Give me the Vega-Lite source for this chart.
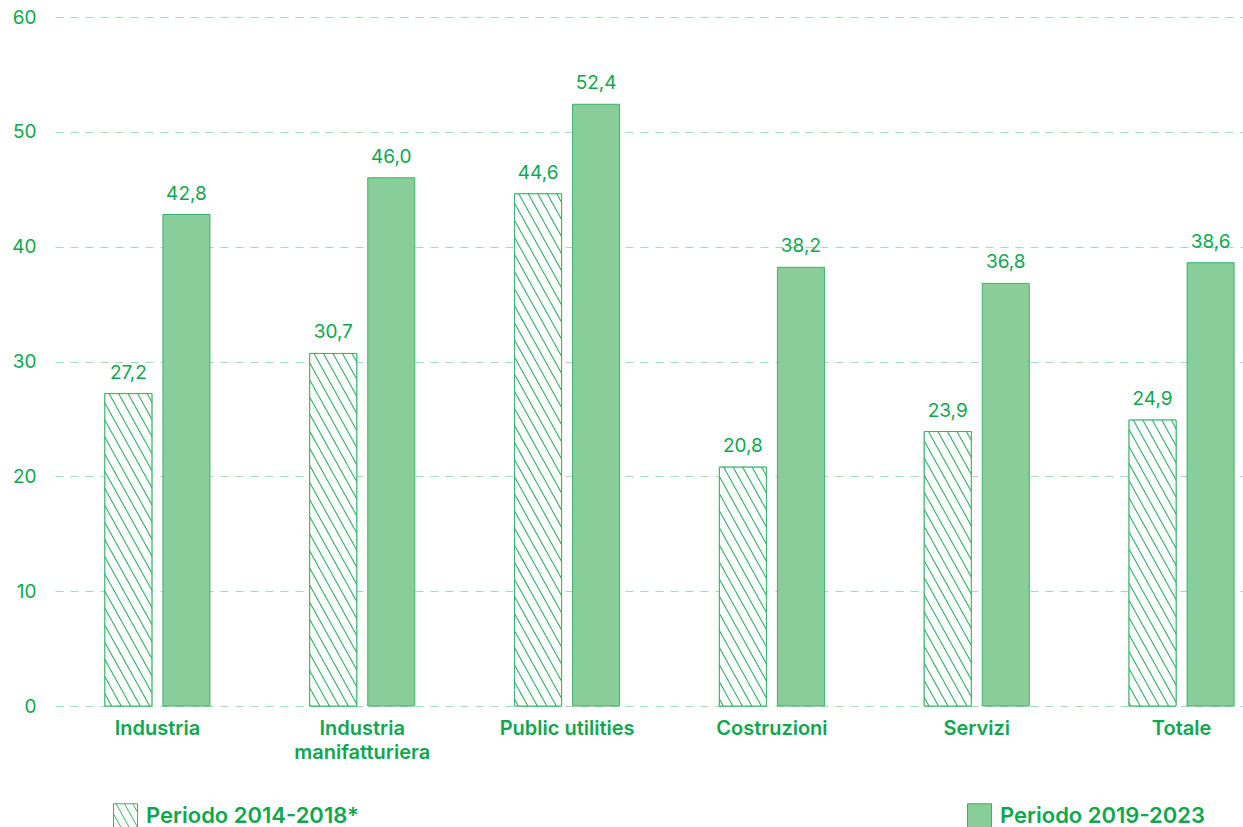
{
  "$schema": "https://vega.github.io/schema/vega-lite/v6.json",
  "width": 1190,
  "height": 689,
  "autosize": {"type": "none"},
  "padding": {"left": 53, "top": 17, "right": 0, "bottom": 121},
  "background": "#ffffff",
  "params": [
    {"name": "hs", "value": [
      {"offset": 0.0095, "color": "#ffffff"}, {"offset": 0.0125, "color": "#1fa857"}, {"offset": 0.0155, "color": "#ffffff"},
      {"offset": 0.0345, "color": "#ffffff"}, {"offset": 0.0375, "color": "#1fa857"}, {"offset": 0.0405, "color": "#ffffff"},
      {"offset": 0.0595, "color": "#ffffff"}, {"offset": 0.0625, "color": "#1fa857"}, {"offset": 0.0655, "color": "#ffffff"},
      {"offset": 0.0845, "color": "#ffffff"}, {"offset": 0.0875, "color": "#1fa857"}, {"offset": 0.0905, "color": "#ffffff"},
      {"offset": 0.1095, "color": "#ffffff"}, {"offset": 0.1125, "color": "#1fa857"}, {"offset": 0.1155, "color": "#ffffff"},
      {"offset": 0.1345, "color": "#ffffff"}, {"offset": 0.1375, "color": "#1fa857"}, {"offset": 0.1405, "color": "#ffffff"},
      {"offset": 0.1595, "color": "#ffffff"}, {"offset": 0.1625, "color": "#1fa857"}, {"offset": 0.1655, "color": "#ffffff"},
      {"offset": 0.1845, "color": "#ffffff"}, {"offset": 0.1875, "color": "#1fa857"}, {"offset": 0.1905, "color": "#ffffff"},
      {"offset": 0.2095, "color": "#ffffff"}, {"offset": 0.2125, "color": "#1fa857"}, {"offset": 0.2155, "color": "#ffffff"},
      {"offset": 0.2345, "color": "#ffffff"}, {"offset": 0.2375, "color": "#1fa857"}, {"offset": 0.2405, "color": "#ffffff"},
      {"offset": 0.2595, "color": "#ffffff"}, {"offset": 0.2625, "color": "#1fa857"}, {"offset": 0.2655, "color": "#ffffff"},
      {"offset": 0.2845, "color": "#ffffff"}, {"offset": 0.2875, "color": "#1fa857"}, {"offset": 0.2905, "color": "#ffffff"},
      {"offset": 0.3095, "color": "#ffffff"}, {"offset": 0.3125, "color": "#1fa857"}, {"offset": 0.3155, "color": "#ffffff"},
      {"offset": 0.3345, "color": "#ffffff"}, {"offset": 0.3375, "color": "#1fa857"}, {"offset": 0.3405, "color": "#ffffff"},
      {"offset": 0.3595, "color": "#ffffff"}, {"offset": 0.3625, "color": "#1fa857"}, {"offset": 0.3655, "color": "#ffffff"},
      {"offset": 0.3845, "color": "#ffffff"}, {"offset": 0.3875, "color": "#1fa857"}, {"offset": 0.3905, "color": "#ffffff"},
      {"offset": 0.4095, "color": "#ffffff"}, {"offset": 0.4125, "color": "#1fa857"}, {"offset": 0.4155, "color": "#ffffff"},
      {"offset": 0.4345, "color": "#ffffff"}, {"offset": 0.4375, "color": "#1fa857"}, {"offset": 0.4405, "color": "#ffffff"},
      {"offset": 0.4595, "color": "#ffffff"}, {"offset": 0.4625, "color": "#1fa857"}, {"offset": 0.4655, "color": "#ffffff"},
      {"offset": 0.4845, "color": "#ffffff"}, {"offset": 0.4875, "color": "#1fa857"}, {"offset": 0.4905, "color": "#ffffff"},
      {"offset": 0.5095, "color": "#ffffff"}, {"offset": 0.5125, "color": "#1fa857"}, {"offset": 0.5155, "color": "#ffffff"},
      {"offset": 0.5345, "color": "#ffffff"}, {"offset": 0.5375, "color": "#1fa857"}, {"offset": 0.5405, "color": "#ffffff"},
      {"offset": 0.5595, "color": "#ffffff"}, {"offset": 0.5625, "color": "#1fa857"}, {"offset": 0.5655, "color": "#ffffff"},
      {"offset": 0.5845, "color": "#ffffff"}, {"offset": 0.5875, "color": "#1fa857"}, {"offset": 0.5905, "color": "#ffffff"},
      {"offset": 0.6095, "color": "#ffffff"}, {"offset": 0.6125, "color": "#1fa857"}, {"offset": 0.6155, "color": "#ffffff"},
      {"offset": 0.6345, "color": "#ffffff"}, {"offset": 0.6375, "color": "#1fa857"}, {"offset": 0.6405, "color": "#ffffff"},
      {"offset": 0.6595, "color": "#ffffff"}, {"offset": 0.6625, "color": "#1fa857"}, {"offset": 0.6655, "color": "#ffffff"},
      {"offset": 0.6845, "color": "#ffffff"}, {"offset": 0.6875, "color": "#1fa857"}, {"offset": 0.6905, "color": "#ffffff"},
      {"offset": 0.7095, "color": "#ffffff"}, {"offset": 0.7125, "color": "#1fa857"}, {"offset": 0.7155, "color": "#ffffff"},
      {"offset": 0.7345, "color": "#ffffff"}, {"offset": 0.7375, "color": "#1fa857"}, {"offset": 0.7405, "color": "#ffffff"},
      {"offset": 0.7595, "color": "#ffffff"}, {"offset": 0.7625, "color": "#1fa857"}, {"offset": 0.7655, "color": "#ffffff"},
      {"offset": 0.7845, "color": "#ffffff"}, {"offset": 0.7875, "color": "#1fa857"}, {"offset": 0.7905, "color": "#ffffff"},
      {"offset": 0.8095, "color": "#ffffff"}, {"offset": 0.8125, "color": "#1fa857"}, {"offset": 0.8155, "color": "#ffffff"},
      {"offset": 0.8345, "color": "#ffffff"}, {"offset": 0.8375, "color": "#1fa857"}, {"offset": 0.8405, "color": "#ffffff"},
      {"offset": 0.8595, "color": "#ffffff"}, {"offset": 0.8625, "color": "#1fa857"}, {"offset": 0.8655, "color": "#ffffff"},
      {"offset": 0.8845, "color": "#ffffff"}, {"offset": 0.8875, "color": "#1fa857"}, {"offset": 0.8905, "color": "#ffffff"},
      {"offset": 0.9095, "color": "#ffffff"}, {"offset": 0.9125, "color": "#1fa857"}, {"offset": 0.9155, "color": "#ffffff"},
      {"offset": 0.9345, "color": "#ffffff"}, {"offset": 0.9375, "color": "#1fa857"}, {"offset": 0.9405, "color": "#ffffff"},
      {"offset": 0.9595, "color": "#ffffff"}, {"offset": 0.9625, "color": "#1fa857"}, {"offset": 0.9655, "color": "#ffffff"},
      {"offset": 0.9845, "color": "#ffffff"}, {"offset": 0.9875, "color": "#1fa857"}, {"offset": 0.9905, "color": "#ffffff"}
    ]}
  ],
  "data": {"values": [
    {"sector": "Industria", "period": "Periodo 2014-2018*", "value": 27.2},
    {"sector": "Industria", "period": "Periodo 2019-2023", "value": 42.8},
    {"sector": "Industria manifatturiera", "period": "Periodo 2014-2018*", "value": 30.7},
    {"sector": "Industria manifatturiera", "period": "Periodo 2019-2023", "value": 46.0},
    {"sector": "Public utilities", "period": "Periodo 2014-2018*", "value": 44.6},
    {"sector": "Public utilities", "period": "Periodo 2019-2023", "value": 52.4},
    {"sector": "Costruzioni", "period": "Periodo 2014-2018*", "value": 20.8},
    {"sector": "Costruzioni", "period": "Periodo 2019-2023", "value": 38.2},
    {"sector": "Servizi", "period": "Periodo 2014-2018*", "value": 23.9},
    {"sector": "Servizi", "period": "Periodo 2019-2023", "value": 36.8},
    {"sector": "Totale", "period": "Periodo 2014-2018*", "value": 24.9},
    {"sector": "Totale", "period": "Periodo 2019-2023", "value": 38.6}
  ]},
  "encoding": {
    "x": {
      "field": "sector", "type": "nominal", "sort": null,
      "scale": {"range": [2, 1231], "paddingInner": 0, "paddingOuter": 0},
      "axis": {
        "title": null, "domain": false, "ticks": false, "grid": false, "labelAngle": 0,
        "labelPadding": 12, "labelFont": "Inter", "labelFontSize": 20, "labelFontWeight": 600,
        "labelColor": "#0fa64f", "labelLineHeight": 24, "labelLimit": 300,
        "labelExpr": "datum.label == 'Industria manifatturiera' ? ['Industria', 'manifatturiera'] : datum.label"
      }
    },
    "xOffset": {
      "field": "period", "type": "nominal", "sort": null,
      "scale": {"paddingInner": 0.19, "paddingOuter": 0.86}
    },
    "y": {
      "field": "value", "type": "quantitative",
      "scale": {"domain": [0, 60], "nice": false},
      "axis": {
        "title": null, "domain": false, "ticks": false, "values": [0, 10, 20, 30, 40, 50, 60],
        "labelPadding": 17, "labelFont": "Inter", "labelFontSize": 19, "labelColor": "#0fa64f",
        "gridColor": "#a3dcb4", "gridDash": [8, 7], "gridWidth": 1
      }
    }
  },
  "layer": [
    {
      "mark": {"type": "bar", "stroke": "#38b46a", "strokeWidth": 1},
      "encoding": {
        "fill": {
          "field": "period", "type": "nominal",
          "scale": {"domain": ["Periodo 2014-2018*", "Periodo 2019-2023"], "range": ["#ffffff", "#88cd9a"]},
          "legend": {
            "orient": "none", "legendX": 60, "legendY": 786, "direction": "horizontal",
            "columns": 2, "columnPadding": 606, "title": null, "padding": 0,
            "symbolType": "square", "symbolSize": 576, "symbolStrokeColor": "#38b46a",
            "symbolStrokeWidth": 1, "symbolOpacity": 1,
            "labelFont": "Inter", "labelFontSize": 22, "labelFontWeight": 600,
            "labelColor": "#0fa64f", "labelOffset": 8, "labelLimit": 400,
            "encode": {
              "symbols": {
                "update": {
                  "shape": {"signal": "datum.index == 0 ? 'M-1,-1H1V1H-1Z M-1,-0.154L-0.359,1 M-0.78,-1L0.331,1 M-0.08,-1L1,0.944 M0.61,-1L1,-0.298' : 'square'"},
                  "fillOpacity": {"value": 1},
                  "stroke": {"value": "#38b46a"},
                  "strokeWidth": {"value": 1},
                  "opacity": {"value": 1}
                }
              }
            }
          }
        }
      }
    },
    {
      "transform": [{"filter": "datum.period == 'Periodo 2014-2018*'"}],
      "mark": {
        "type": "bar", "stroke": "#38b46a", "strokeWidth": 1,
        "fill": {"expr": "{gradient: 'linear', x1: 1, y1: 0, x2: 1 - (1 + 7.367/datum.value) * 40 / ((1 + pow(7.367/datum.value, 2)) * (4.947 + 0.6715*datum.value)) * (7.367/datum.value), y2: (1 + 7.367/datum.value) * 40 / ((1 + pow(7.367/datum.value, 2)) * (4.947 + 0.6715*datum.value)), stops: hs}"}
      }
    },
    {
      "mark": {"type": "text", "dy": -15, "baseline": "alphabetic", "align": "center", "font": "Inter", "fontSize": 19, "color": "#0fa64f"},
      "encoding": {
        "text": {"field": "value", "type": "quantitative", "format": ".1f"}
      }
    }
  ],
  "config": {
    "locale": {"number": {"decimal": ",", "thousands": ".", "grouping": [3], "currency": ["", " €"]}},
    "font": "Inter",
    "view": {"stroke": null}
  }
}
